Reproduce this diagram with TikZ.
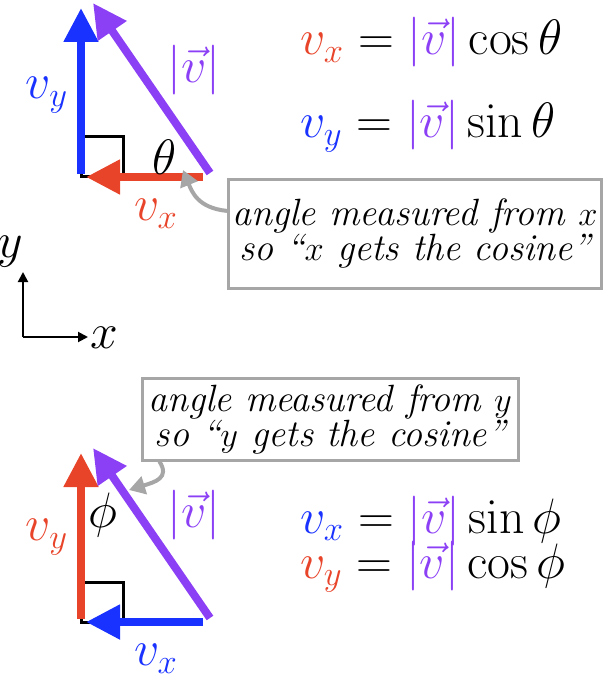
\documentclass[tikz,border=0pt]{standalone}
\usetikzlibrary{arrows.meta}
\definecolor{vblue}{RGB}{25,50,255}
\definecolor{vred}{RGB}{232,68,42}
\definecolor{vpurple}{RGB}{140,64,245}
\definecolor{notegray}{RGB}{166,166,166}
\begin{document}
\begin{tikzpicture}[x=0.5pt,y=-0.5pt,
  vec/.style={line width=4pt,-{Triangle[length=17pt,width=16.5pt]}},
  rightangle/.style={draw=black,line width=1.5pt},
  lbl/.style={font=\fontsize{24}{28}\selectfont,inner sep=0pt},
  eqn/.style={lbl,anchor=base west},
  note/.style={draw=notegray,line width=1.5pt,fill=white,align=center,
    font=\fontsize{19}{17.5}\selectfont\itshape,inner sep=2pt},
  pointer/.style={draw=notegray,line width=2pt,-{Triangle[length=8pt,width=9pt]}},
  axis/.style={line width=1pt,-{Triangle[length=5pt,width=5pt]}}]
  \useasboundingbox (0,0) rectangle (606,678);
  % top triangle: angle from x
  \coordinate (c1) at (81,177);
  \coordinate (yend1) at (81,174);
  \coordinate (ytip1) at (81,8);
  \coordinate (xend1) at (203,177);
  \coordinate (xtip1) at (86,177);
  \coordinate (vend1) at (210,173);
  \coordinate (vtip1) at (93,3);
  \draw[rightangle] (c1) rectangle (123,137);
  \draw[vec,vblue] (yend1) -- (ytip1);
  \draw[vec,vred] (xend1) -- (xtip1);
  \draw[vec,vpurple] (vend1) -- (vtip1);
  \node[lbl,text=vpurple] (vlbl1) at (194,70) {$|\vec{v}|$};
  \node[lbl,text=vblue] (vylbl1) at (47,95) {$v_y$};
  \node[lbl] (theta) at (165,157) {$\theta$};
  \node[lbl,text=vred] (vxlbl1) at (156,214) {$v_x$};
  % equations
  \node[eqn] (eqx1) at (300,55) {$\textcolor{vred}{v_x} = \textcolor{vpurple}{|\vec{v}|}\cos\theta$};
  \node[eqn] (eqy1) at (300,138) {$\textcolor{vblue}{v_y} = \textcolor{vpurple}{|\vec{v}|}\sin\theta$};
  % note 1
  \node[note,minimum width=185pt,minimum height=54pt] (note1) at (415,234)
    {angle measured from $x$\\so ``$x$ gets the cosine''};
  \coordinate (tip1) at (183,170);
  \draw[pointer] (note1.173) .. controls (198,208) and (192,192) .. (tip1);
  % axes
  \coordinate (ax) at (23,337);
  \coordinate (axy) at (23,272);
  \coordinate (axx) at (88,337);
  \draw[axis] (ax) -- (axy);
  \draw[axis] (ax) -- (axx);
  \node[lbl] (ylbl) at (10,252) {$y$};
  \node[lbl] (xlbl) at (104,338) {$x$};
  % note 2
  \node[note,minimum width=188pt,minimum height=41pt] (note2) at (330,419)
    {angle measured from $y$\\so ``$y$ gets the cosine''};
  \coordinate (tip2) at (129,490);
  \draw[pointer] (note2.194) .. controls (170,478) and (155,482) .. (tip2);
  % bottom triangle: angle from y
  \coordinate (c2) at (81,622);
  \coordinate (yend2) at (81,619);
  \coordinate (ytip2) at (81,453);
  \coordinate (xend2) at (203,622);
  \coordinate (xtip2) at (86,622);
  \coordinate (vend2) at (210,618);
  \coordinate (vtip2) at (93,448);
  \draw[rightangle] (c2) rectangle (123,582);
  \draw[vec,vred] (yend2) -- (ytip2);
  \draw[vec,vblue] (xend2) -- (xtip2);
  \draw[vec,vpurple] (vend2) -- (vtip2);
  \node[lbl,text=vpurple] (vlbl2) at (194,515) {$|\vec{v}|$};
  \node[lbl,text=vred] (vylbl2) at (47,537) {$v_y$};
  \node[lbl] (phi) at (103,515) {$\phi$};
  \node[lbl,text=vblue] (vxlbl2) at (156,659) {$v_x$};
  % equations
  \node[eqn] (eqx2) at (300,533) {$\textcolor{vblue}{v_x} = \textcolor{vpurple}{|\vec{v}|}\sin\phi$};
  \node[eqn] (eqy2) at (300,578) {$\textcolor{vred}{v_y} = \textcolor{vpurple}{|\vec{v}|}\cos\phi$};
\end{tikzpicture}
\end{document}
